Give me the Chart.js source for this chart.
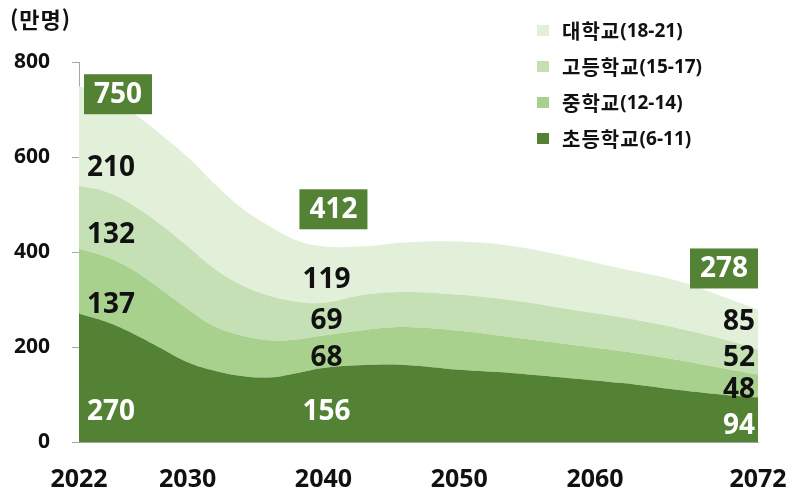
<!DOCTYPE html>
<html lang="ko">
<head>
<meta charset="UTF-8">
<title>학령인구 전망</title>
<script src="https://cdn.jsdelivr.net/npm/chart.js"></script>
<style>
  html, body { margin: 0; padding: 0; background: #fff; }
  .wrap { position: relative; width: 792px; height: 493px; }
  #unit { position: absolute; left: 10px; top: 2px; font: bold 22px "Noto Sans CJK KR", "Open Sans", sans-serif; color: #111; letter-spacing: 1px; }
  #legend { position: absolute; left: 537px; top: 12px; }
  .item { display: flex; align-items: center; height: 36px; font: bold 19px "Open Sans", "Noto Sans CJK KR", sans-serif; color: #111; }
  .item .kr { font-family: "Noto Sans CJK KR", sans-serif; font-size: 20px; letter-spacing: 1px; }
  .sw { width: 12px; height: 11px; margin-right: 13px; }
</style>
</head>
<body>
<div class="wrap">
  <canvas id="chart" width="792" height="493"></canvas>
  <div id="unit">(만명)</div>
  <div id="legend"></div>
</div>
<script>
const years = [2022, 2024, 2026, 2028, 2030, 2032, 2034, 2036, 2038, 2040, 2043, 2046, 2050, 2054, 2058, 2062, 2066, 2070, 2072];
const elementary = [270, 253, 228, 198, 168, 150, 139, 136, 145, 156, 162, 162, 152, 145, 135, 124, 110, 98, 94];
const middle     = [137, 137, 134, 124, 112, 93, 85, 78, 71, 68, 74, 80, 82, 75, 71, 67, 63, 54, 48];
const high       = [132, 137, 136, 136, 132, 121, 106, 94, 80, 69, 74, 74, 76, 78, 74, 71, 67, 60, 52];
const university = [210, 201, 194, 190, 188, 179, 162, 147, 129, 119, 102, 104, 112, 114, 110, 103, 100, 88, 85];

const seriesNames = ['초등학교(6-11)', '중학교(12-14)', '고등학교(15-17)', '대학교(18-21)'];
const seriesColors = ['#548235', '#a9d18e', '#c5e0b4', '#e2f0d9'];
const xTickYears = [2022, 2030, 2040, 2050, 2060, 2072];
const labelYears = [2022, 2040, 2072];
const totalLabels = [750, 412, 278];

// legend, top item = 대학교
const legend = document.getElementById('legend');
for (let i = seriesNames.length - 1; i >= 0; i--) {
  const m = seriesNames[i].match(/^(.+?)(\(.+\))$/);
  const div = document.createElement('div');
  div.className = 'item';
  div.innerHTML = `<span class="sw" style="background:${seriesColors[i]}"></span><span class="kr">${m[1]}</span><span>${m[2]}</span>`;
  legend.appendChild(div);
}

const allSeries = [elementary, middle, high, university];
const datasets = allSeries.map((arr, i) => ({
  label: seriesNames[i],
  data: arr.map((v, j) => ({ x: years[j], y: v })),
  backgroundColor: seriesColors[i],
  borderWidth: 0,
  pointRadius: 0,
  fill: i === 0 ? 'origin' : '-1',
  tension: 0.4
}));

// label placement tweaks (pixels) per label year
const labelStyle = {
  2022: { align: 'left', dx: 8, dy: [34, 24, 18, 32], box: [39, 8] },
  2040: { align: 'center', dx: 3, dy: [7, 6, 2, 5], box: [10, -37] },
  2072: { align: 'right', dx: -3, dy: [6, 4, -4, -8], box: [-34, -41] }
};

const valueLabels = {
  id: 'valueLabels',
  afterDatasetsDraw(chart) {
    const { ctx, scales: { x, y } } = chart;
    ctx.save();
    ctx.textBaseline = 'middle';
    ctx.font = 'bold 28px "Open Sans", sans-serif';
    labelYears.forEach((yr, k) => {
      const j = years.indexOf(yr);
      const st = labelStyle[yr];
      const px = x.getPixelForValue(yr);
      let base = 0;
      allSeries.forEach((arr, i) => {
        const v = arr[j];
        const mid = y.getPixelForValue(base + v / 2);
        base += v;
        ctx.fillStyle = i === 0 ? '#ffffff' : '#111111';
        ctx.textAlign = st.align;
        ctx.fillText(String(v), px + st.dx, mid + st.dy[i]);
      });
      const cx = px + st.box[0];
      const cy = y.getPixelForValue(base) + st.box[1];
      ctx.fillStyle = '#548235';
      ctx.fillRect(cx - 34, cy - 20, 68, 40);
      ctx.fillStyle = '#ffffff';
      ctx.textAlign = 'center';
      ctx.fillText(String(totalLabels[k]), cx, cy + 1);
    });
    ctx.restore();
  }
};

new Chart(document.getElementById('chart'), {
  type: 'line',
  data: { datasets },
  options: {
    responsive: false,
    animation: false,
    layout: { padding: { top: 62, right: 34, left: 0, bottom: 0 } },
    plugins: { legend: { display: false }, tooltip: { enabled: false } },
    scales: {
      x: {
        type: 'linear',
        min: 2022,
        max: 2072,
        afterBuildTicks: s => { s.ticks = xTickYears.map(v => ({ value: v })); },
        afterFit: s => { s.height = 51; s.paddingLeft = 0; s.paddingRight = 0; },
        grid: { display: false },
        border: { display: true, color: '#a6a6a6' },
        ticks: {
          color: '#111',
          padding: 15,
          maxRotation: 0,
          autoSkip: false,
          font: { family: 'Open Sans', weight: 'bold', size: 25 },
          callback: v => String(v)
        }
      },
      y: {
        stacked: true,
        min: 0,
        max: 800,
        afterFit: s => { s.width = 79; },
        grid: { display: true, drawOnChartArea: false, drawTicks: true, tickLength: 7, color: '#a6a6a6' },
        border: { display: true, color: '#a6a6a6' },
        ticks: {
          stepSize: 200,
          color: '#111',
          padding: 22,
          font: { family: 'Open Sans', weight: 'bold', size: 21 }
        }
      }
    }
  },
  plugins: [valueLabels]
});
</script>
</body>
</html>
